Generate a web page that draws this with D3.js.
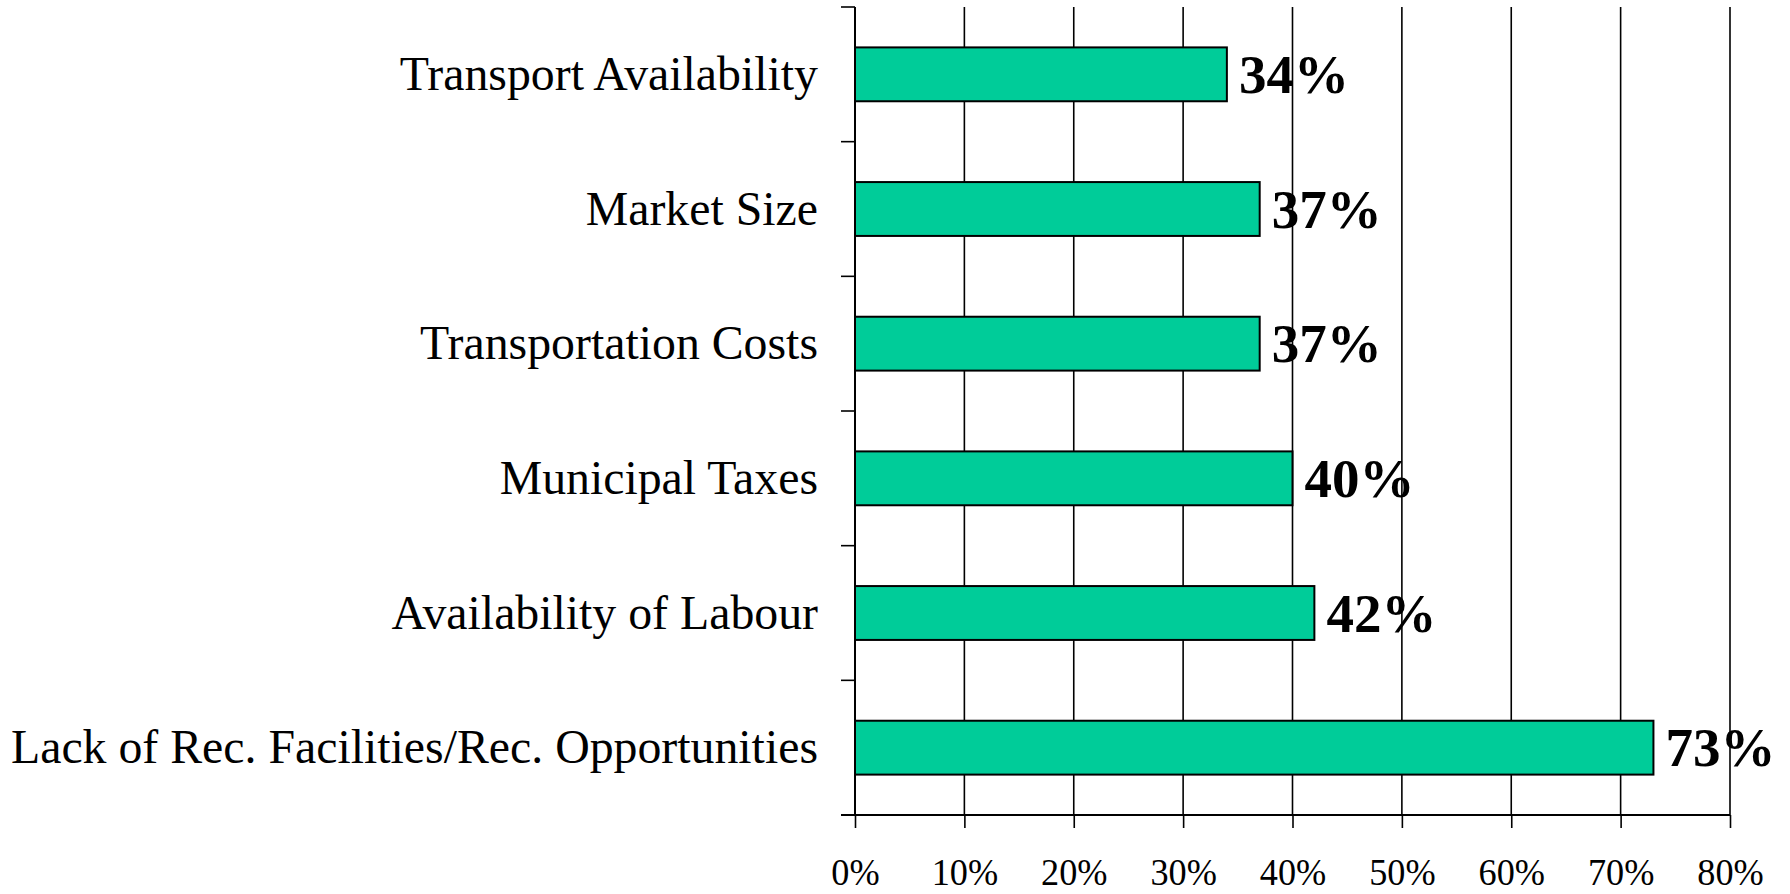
<!DOCTYPE html>
<html>
<head>
<meta charset="utf-8">
<script src="https://cdn.jsdelivr.net/npm/d3@7"></script>
<style>
  body { margin: 0; background: #fff; }
  text { font-family: "Liberation Serif", "Times New Roman", serif; fill: #000; }
</style>
</head>
<body>
<div id="chart"></div>
<script>
const width = 1790
const height = 894

// categories top to bottom
const categories = [
  "Transport Availability",
  "Market Size",
  "Transportation Costs",
  "Municipal Taxes",
  "Availability of Labour",
  "Lack of Rec. Facilities/Rec. Opportunities"
]
const values = [0.34, 0.37, 0.37, 0.40, 0.42, 0.73]
const xTicks = [0, 0.1, 0.2, 0.3, 0.4, 0.5, 0.6, 0.7, 0.8]

const margin = {top: 7, left: 855, right: 60, bottom: 79}

const svg = d3.select("#chart")
              .append("svg")
              .attr("width", width)
              .attr("height", height)

const x = d3.scaleLinear()
            .domain([0, 0.8])
            .range([margin.left, width - margin.right])

const y = d3.scaleBand()
            .domain(categories)
            .range([margin.top, height - margin.bottom])
            .paddingInner(0.6)
            .paddingOuter(0.3)

const bottom = height - margin.bottom

//Gridlines
svg.append("g")
   .selectAll("line")
   .data(xTicks.slice(1))
   .enter()
   .append("line")
   .attr("x1", d => x(d))
   .attr("x2", d => x(d))
   .attr("y1", margin.top)
   .attr("y2", bottom)
   .attr("stroke", "#000")
   .attr("stroke-width", 1.6)

//X axis
const xAxis = svg.append("g")
                 .attr("transform", "translate(0," + bottom + ")")
                 .call(d3.axisBottom(x)
                         .tickValues(xTicks)
                         .tickFormat(d3.format(".0%"))
                         .tickSize(13)
                         .tickPadding(33)
                         .tickSizeOuter(0))
xAxis.select(".domain").remove()
xAxis.append("line")
     .attr("x1", margin.left - 14)
     .attr("x2", x(0.8))
     .attr("stroke", "#000")
     .attr("stroke-width", 2)
xAxis.selectAll(".tick line").attr("stroke", "#000").attr("stroke-width", 1.6)
// labels are a bit narrow in the original, squeeze them horizontally
xAxis.selectAll(".tick text")
     .attr("font-family", "'Liberation Serif', 'Times New Roman', serif")
     .attr("font-size", 39)
     .attr("fill", "#000")
     .attr("dy", "0.62em")
     .attr("transform", "scale(0.93,1)")

//Y axis: line plus ticks at band boundaries
const yAxis = svg.append("g")
yAxis.append("line")
     .attr("x1", x(0))
     .attr("x2", x(0))
     .attr("y1", margin.top)
     .attr("y2", bottom)
     .attr("stroke", "#000")
     .attr("stroke-width", 2)
yAxis.selectAll(".ytick")
     .data(d3.range(categories.length))
     .enter()
     .append("line")
     .attr("class", "ytick")
     .attr("x1", x(0) - 14)
     .attr("x2", x(0))
     .attr("y1", i => y.range()[0] + i * y.step())
     .attr("y2", i => y.range()[0] + i * y.step())
     .attr("stroke", "#000")
     .attr("stroke-width", 1.6)

yAxis.selectAll(".ylabel")
     .data(categories)
     .enter()
     .append("text")
     .attr("class", "ylabel")
     .attr("x", x(0) - 37)
     .attr("y", d => y(d) + y.bandwidth() / 2)
     .attr("dy", "0.33em")
     .attr("text-anchor", "end")
     .attr("font-size", 47.8)
     .text(d => d)

//Bars
const data = categories.map((c, i) => ({name: c, value: values[i]}))

svg.append("g")
   .selectAll("rect")
   .data(data)
   .enter()
   .append("rect")
   .attr("x", x(0))
   .attr("y", d => y(d.name))
   .attr("width", d => x(d.value) - x(0))
   .attr("height", y.bandwidth())
   .attr("fill", "#00cc99")
   .attr("stroke", "#000")
   .attr("stroke-width", 2)

svg.append("g")
   .selectAll("text")
   .data(data)
   .enter()
   .append("text")
   .attr("x", d => x(d.value) + 12)
   .attr("y", d => y(d.name) + y.bandwidth() / 2)
   .attr("dy", "0.34em")
   .attr("font-size", 55)
   .attr("font-weight", "bold")
   .text(d => d3.format(".0%")(d.value))
</script>
</body>
</html>
